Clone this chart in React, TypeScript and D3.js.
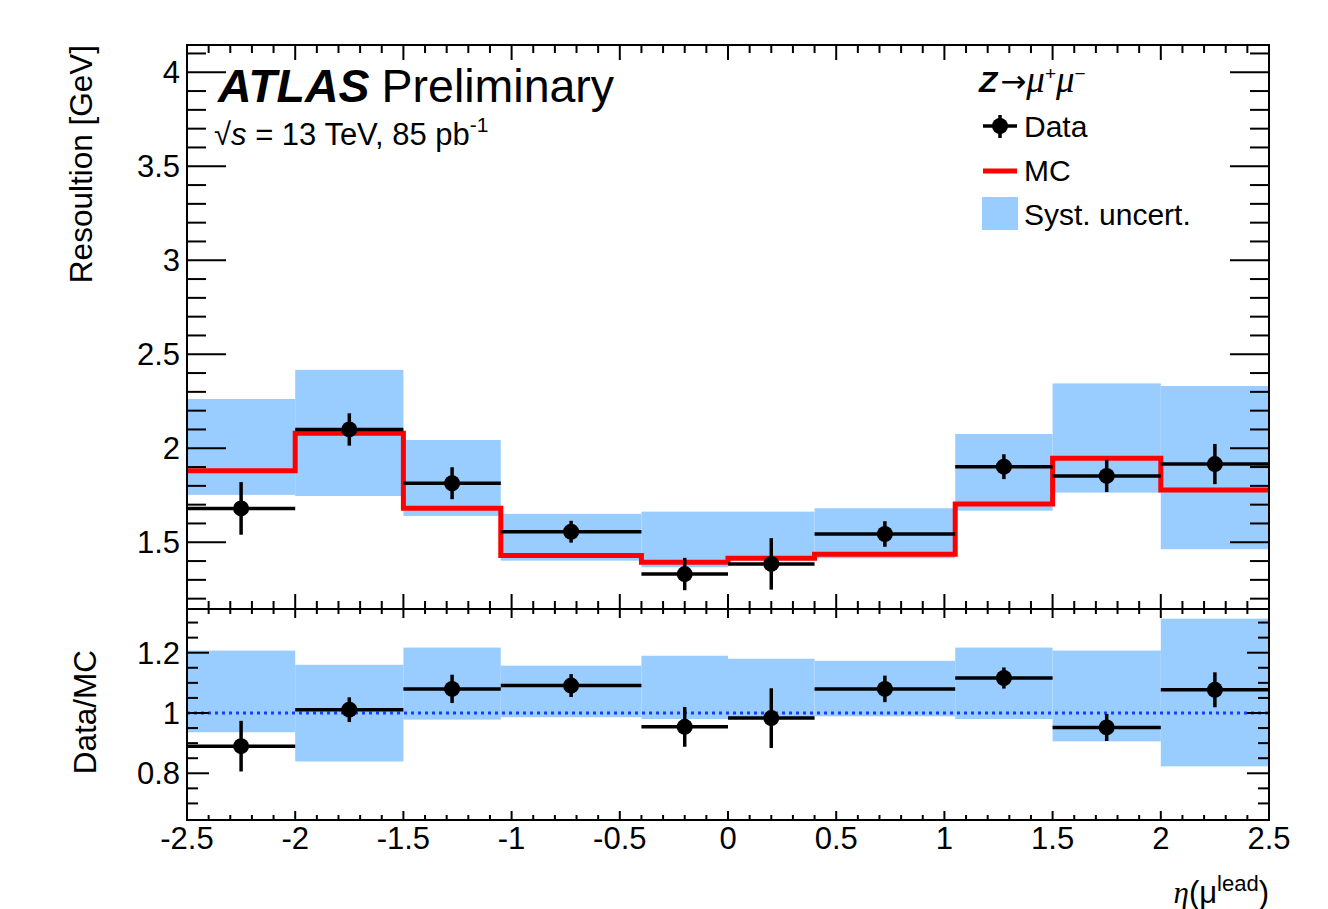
import React from "react";
import * as d3 from "d3";

// ---- data ----
const binEdges = [-2.5, -2, -1.5, -1.05, -0.4, 0, 0.4, 1.05, 1.5, 2, 2.5];
const dataRes = [1.68, 2.1, 1.814, 1.556, 1.331, 1.385, 1.544, 1.902, 1.853, 1.916];
const dataResErr = [0.14, 0.086, 0.085, 0.058, 0.086, 0.137, 0.068, 0.066, 0.086, 0.107];
const mcRes = [1.881, 2.08, 1.681, 1.429, 1.394, 1.415, 1.436, 1.704, 1.947, 1.778];
const systHigh = [2.262, 2.417, 2.044, 1.651, 1.663, 1.663, 1.681, 2.076, 2.345, 2.331];
const systLow = [1.752, 1.746, 1.64, 1.402, 1.367, 1.403, 1.415, 1.668, 1.764, 1.463];

const ratioVals = [0.89, 1.011, 1.08, 1.091, 0.954, 0.983, 1.08, 1.116, 0.952, 1.077];
const ratioErr = [0.084, 0.041, 0.047, 0.038, 0.066, 0.099, 0.044, 0.035, 0.045, 0.058];
const ratioSystHigh = [1.207, 1.16, 1.217, 1.157, 1.19, 1.18, 1.173, 1.217, 1.207, 1.313];
const ratioSystLow = [0.936, 0.839, 0.978, 0.986, 0.98, 0.985, 0.989, 0.98, 0.906, 0.823];

const xTickLabels = ["-2.5", "-2", "-1.5", "-1", "-0.5", "0", "0.5", "1", "1.5", "2", "2.5"];
const yTopTickLabels = ["1.5", "2", "2.5", "3", "3.5", "4"];
const yBotTickLabels = ["0.8", "1", "1.2"];

// ---- layout ----
const L = 187, R = 1269;
const T1 = 45, B1 = 609;
const T2 = 609, B2 = 820;
const FONT = "'Liberation Sans', Arial, Helvetica, sans-serif";
const SERIF = "'Liberation Serif', 'DejaVu Serif', serif";
const BAND = "#99ccff";

const x = d3.scaleLinear().domain([-2.5, 2.5]).range([L, R]);
const yTop = d3.scaleLinear().domain([1.145, 4.145]).range([B1, T1]);
const yBot = d3.scaleLinear().domain([0.645, 1.345]).range([B2, T2]);

const rng = (a: number, b: number, s: number) => {
  const out: number[] = [];
  const n = Math.round((b - a) / s);
  for (let i = 0; i <= n; i++) out.push(+(a + i * s).toFixed(4));
  return out;
};

function Ticks({ y, yMaj, yMin, xMajLen, xMinLen, yMajLen, yMinLen, top, bottom }: any) {
  const lines: any[] = [];
  const xMinor = rng(-2.5, 2.5, 0.1);
  xMinor.forEach((v, i) => {
    const major = Math.abs(v * 2 - Math.round(v * 2)) < 1e-6;
    const len = major ? xMajLen : xMinLen;
    const px = x(v);
    lines.push(<line key={"xb" + i} x1={px} x2={px} y1={bottom} y2={bottom - len} />);
    lines.push(<line key={"xt" + i} x1={px} x2={px} y1={top} y2={top + len} />);
  });
  yMin.forEach((v: number, i: number) => {
    const major = yMaj.some((m: number) => Math.abs(m - v) < 1e-6);
    const len = major ? yMajLen : yMinLen;
    const py = y(v);
    lines.push(<line key={"yl" + i} x1={L} x2={L + len} y1={py} y2={py} />);
    lines.push(<line key={"yr" + i} x1={R} x2={R - len} y1={py} y2={py} />);
  });
  return <g stroke="#000" strokeWidth={2}>{lines}</g>;
}

function Panel({ y, vals, errs, hi, lo, mc, showMC, unity }: any) {
  const bins = d3.range(binEdges.length - 1);
  const mcPath = () => {
    const pts: [number, number][] = [];
    bins.forEach((i) => {
      pts.push([x(binEdges[i]), y(mc[i])]);
      pts.push([x(binEdges[i + 1]), y(mc[i])]);
    });
    return d3.line()(pts) as string;
  };
  return (
    <g>
      {bins.map((i) => (
        <rect key={"b" + i} x={x(binEdges[i])} width={x(binEdges[i + 1]) - x(binEdges[i])}
          y={y(hi[i])} height={y(lo[i]) - y(hi[i])} fill={BAND} />
      ))}
      {unity && (
        <line x1={L} x2={R} y1={y(1)} y2={y(1)} stroke="#1a3cff" strokeWidth={3} strokeDasharray="3,4" />
      )}
      {showMC && <path d={mcPath()} fill="none" stroke="#ff0000" strokeWidth={5} />}
      {bins.map((i) => {
        const cx = x((binEdges[i] + binEdges[i + 1]) / 2);
        const cy = y(vals[i]);
        return (
          <g key={"d" + i}>
            <line x1={x(binEdges[i])} x2={x(binEdges[i + 1])} y1={cy} y2={cy} stroke="#000" strokeWidth={3.5} />
            <line x1={cx} x2={cx} y1={y(vals[i] + errs[i])} y2={y(vals[i] - errs[i])} stroke="#000" strokeWidth={3.5} />
            <circle cx={cx} cy={cy} r={8} fill="#000" />
          </g>
        );
      })}
    </g>
  );
}

export default function App() {
  const yTopMaj = yTopTickLabels.map(Number);
  const yTopMin = rng(1.2, 4.1, 0.1);
  const yBotMaj = yBotTickLabels.map(Number);
  const yBotMin = rng(0.7, 1.3, 0.05);
  return (
    <div style={{ position: "fixed", left: 0, top: 0 }}>
      <svg width={1328} height={909} style={{ display: "block", background: "#fff" }} fontFamily={FONT}>
        <rect width={1328} height={909} fill="#fff" />
        <Panel y={yTop} vals={dataRes} errs={dataResErr} hi={systHigh} lo={systLow} mc={mcRes} showMC />
        <Panel y={yBot} vals={ratioVals} errs={ratioErr} hi={ratioSystHigh} lo={ratioSystLow} mc={mcRes} unity />

        <Ticks y={yTop} yMaj={yTopMaj} yMin={yTopMin} xMajLen={15} xMinLen={8} yMajLen={39} yMinLen={19} top={T1} bottom={B1} />
        <Ticks y={yBot} yMaj={yBotMaj} yMin={yBotMin} xMajLen={9} xMinLen={5} yMajLen={22} yMinLen={11} top={T2} bottom={B2} />

        <rect x={L} y={T1} width={R - L} height={B1 - T1} fill="none" stroke="#000" strokeWidth={2} />
        <rect x={L} y={T2} width={R - L} height={B2 - T2} fill="none" stroke="#000" strokeWidth={2} />

        {/* tick labels */}
        {yTopTickLabels.map((t) => (
          <text key={"yt" + t} x={180} y={yTop(+t)} dy="0.36em" textAnchor="end" fontSize={31}>{t}</text>
        ))}
        {yBotTickLabels.map((t) => (
          <text key={"yb" + t} x={180} y={yBot(+t)} dy="0.36em" textAnchor="end" fontSize={31}>{t}</text>
        ))}
        {xTickLabels.map((t) => (
          <text key={"xl" + t} x={x(+t)} y={849} textAnchor="middle" fontSize={31}>{t}</text>
        ))}

        {/* axis titles */}
        <text transform={`translate(92,45) rotate(-90)`} textAnchor="end" fontSize={31.5}>Resoultion [GeV]</text>
        <text transform={`translate(96,650) rotate(-90)`} textAnchor="end" fontSize={31.5}>Data/MC</text>
        <text x={R} y={903} textAnchor="end" fontSize={31}>
          <tspan fontFamily={SERIF} fontStyle="italic">η</tspan>
          <tspan>(μ</tspan>
          <tspan fontSize={22} dy={-12}>lead</tspan>
          <tspan dy={12}>)</tspan>
        </text>

        {/* ATLAS label */}
        <text x={218} y={102} fontSize={46.5}>
          <tspan fontWeight="bold" fontStyle="italic">ATLAS</tspan>
          <tspan dx={12}>Preliminary</tspan>
        </text>
        <text x={214} y={145} fontSize={31}>
          <tspan>√</tspan>
          <tspan fontStyle="italic">s</tspan>
          <tspan> = 13 TeV, 85 pb</tspan>
          <tspan fontSize={21} dy={-13}>-1</tspan>
        </text>

        {/* legend */}
        <text x={979} y={92} fontSize={30}>
          <tspan fontWeight="bold" fontStyle="italic">Z</tspan>
          <tspan dx={3} fontFamily="'DejaVu Sans', sans-serif" fontSize={31}>→</tspan>
          <tspan fontFamily={SERIF} fontStyle="italic" fontSize={37}>μ</tspan>
          <tspan fontSize={19} dy={-12}>+</tspan>
          <tspan dy={12} fontFamily={SERIF} fontStyle="italic" fontSize={37}>μ</tspan>
          <tspan fontSize={19} dy={-12}>−</tspan>
        </text>
        <g stroke="#000" strokeWidth={3.5}>
          <line x1={983} x2={1017} y1={126} y2={126} />
          <line x1={1000} x2={1000} y1={115} y2={138} />
        </g>
        <circle cx={1000} cy={126} r={8} fill="#000" />
        <text x={1024} y={137} fontSize={30}>Data</text>
        <line x1={983} x2={1017} y1={171} y2={171} stroke="#ff0000" strokeWidth={5} />
        <text x={1024} y={181} fontSize={30}>MC</text>
        <rect x={982} y={197} width={36} height={33} fill={BAND} />
        <text x={1024} y={225} fontSize={30}>Syst. uncert.</text>
      </svg>
    </div>
  );
}
